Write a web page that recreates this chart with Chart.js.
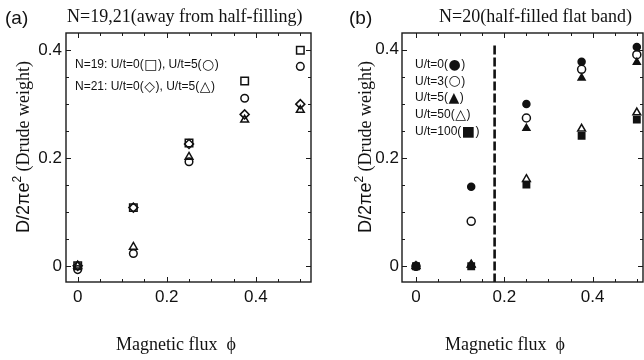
<!DOCTYPE html>
<html><head><meta charset="utf-8">
<script src="https://cdn.jsdelivr.net/npm/chart.js@4.4.1/dist/chart.umd.min.js"></script>
<style>
html,body{margin:0;padding:0;background:#fff;overflow:hidden;width:644px;height:360px;}
canvas{position:absolute;top:0;}
#ca{left:0}
#cb{left:322px}
</style></head><body>
<canvas id="ca" width="322" height="360"></canvas>
<canvas id="cb" width="322" height="360"></canvas>
<script>
// ---------- data ----------
const phi = [0, 0.125, 0.25, 0.375, 0.5];
// panel (a): N=19,21
const aN19U0 = [0.000, 0.108, 0.228, 0.343, 0.400];
const aN19U5 = [-0.007, 0.023, 0.193, 0.311, 0.370];
const aN21U0 = [0.000, 0.108, 0.226, 0.281, 0.300];
const aN21U5 = [0.000, 0.035, 0.202, 0.271, 0.289];
// panel (b): N=20
const bU0   = [0.000, 0.147, 0.300, 0.378, 0.405];
const bU3   = [0.000, 0.083, 0.274, 0.364, 0.391];
const bU5   = [0.000, 0.003, 0.255, 0.348, 0.377];
const bU50  = [0.000, 0.003, 0.161, 0.254, 0.284];
const bU100 = [0.000, 0.000, 0.151, 0.241, 0.271];
const phiCritical = 0.178;
const dashTop = 0.413;
const tickValues = [0, 0.2, 0.4];
const minorStep = 0.05;
const titleA = 'N=19,21(away from half-filling)';
const titleB = 'N=20(half-filled flat band)';
const legendA = ['N=19: U/t=0(\u25A1), U/t=5(\u25CB)', 'N=21: U/t=0(\u25C7), U/t=5(\u25B3)'];
const legendB = ['U/t=0(\u25CF)', 'U/t=3(\u25CB)', 'U/t=5(\u25B2)', 'U/t=50(\u25B3)', 'U/t=100(\u25A0)'];
const xTitle = 'Magnetic flux  \u03D5';

const SANS = '"Liberation Sans", Arial, "DejaVu Sans", sans-serif';
const SERIF = '"Liberation Serif", "Times New Roman", "DejaVu Serif", serif';
const SYM = '"DejaVu Sans", sans-serif';
const SYMBOLS = '\u25A1\u25CB\u25C7\u25B3\u25CF\u25B2\u25A0';

function pts(arr){ return phi.map((x,i)=>({x:x, y:arr[i]})); }

const framePlugin = {
  id:'frame',
  afterDatasetsDraw(chart){
    const {ctx, chartArea:a, scales:{x,y}} = chart;
    ctx.save();
    ctx.strokeStyle='#1a1a1a';
    ctx.lineWidth=1.4;
    ctx.strokeRect(a.left, a.top, a.right-a.left, a.bottom-a.top);
    ctx.lineWidth=1;
    const seg=(x1,y1,x2,y2)=>{ctx.beginPath();ctx.moveTo(x1,y1);ctx.lineTo(x2,y2);ctx.stroke();};
    for(let i=Math.ceil(x.min/minorStep-1e-9); i*minorStep<=x.max+1e-9; i++){
      const px=Math.round(x.getPixelForValue(i*minorStep))+0.5;
      const L=(i%4===0)?5:3;
      seg(px,a.bottom,px,a.bottom-L); seg(px,a.top,px,a.top+L);
    }
    for(let i=Math.ceil(y.min/minorStep-1e-9); i*minorStep<=y.max+1e-9; i++){
      const py=Math.round(y.getPixelForValue(i*minorStep))+0.5;
      const L=(i%4===0)?5:3;
      seg(a.left,py,a.left+L,py); seg(a.right,py,a.right-L,py);
    }
    ctx.restore();
  }
};

function drawRich(ctx, text, x, y, size){
  let cx=x;
  for(const ch of text){
    if(SYMBOLS.includes(ch)){
      ctx.font=(size+2)+'px '+SYM;
      ctx.fillText(ch, cx+0.5, y+0.5);
      cx+=ctx.measureText(ch).width+1;
    } else {
      ctx.font=size+'px '+SANS;
      ctx.fillText(ch, cx, y);
      cx+=ctx.measureText(ch).width;
    }
  }
}

const textPlugin = {
  id:'texts',
  afterDraw(chart, args, o){
    const ctx=chart.ctx;
    ctx.save();
    ctx.fillStyle='#111';
    ctx.textAlign='left'; ctx.textBaseline='alphabetic';
    ctx.font='19px '+SANS; ctx.fillText(o.panel, o.panelX, 24);
    ctx.font='18px '+SERIF; ctx.fillText(o.title, o.titleX, 22);
    // x title
    ctx.textAlign='center';
    ctx.font='18px '+SERIF; ctx.fillText(xTitle, o.xTitleX, 350);
    // legend
    ctx.textAlign='left'; ctx.textBaseline='middle';
    o.legend.forEach((t,i)=>drawRich(ctx, t, o.legendX, o.legendY + i*o.legendDy, o.legendFont));
    // y title
    ctx.translate(o.yTitleX, o.yTitleY);
    ctx.rotate(-Math.PI/2);
    ctx.textBaseline='alphabetic';
    ctx.font='18px '+SANS; const w1=ctx.measureText('D/2\u03C0e').width;
    ctx.font='12px '+SANS; const w2=ctx.measureText('2').width;
    ctx.font='18px '+SERIF; const w3=ctx.measureText(' (Drude weight)').width;
    let cx=-(w1+w2+w3)/2;
    ctx.font='18px '+SANS; ctx.fillText('D/2\u03C0e', cx, 0); cx+=w1;
    ctx.font='12px '+SANS; ctx.fillText('2', cx, -8); cx+=w2;
    ctx.font='18px '+SERIF; ctx.fillText(' (Drude weight)', cx, 0);
    ctx.restore();
  }
};

function ds(label, arr, style, radius, filled){
  return {label, data:pts(arr), pointStyle:style, pointRadius:radius, pointHoverRadius:radius,
    pointBackgroundColor: filled?'#111':'rgba(0,0,0,0)', pointBorderColor:'#111',
    pointBorderWidth:1.5, showLine:false};
}

function makeChart(id, datasets, xr, yr, yAxisW, padRight, plug){
  return new Chart(document.getElementById(id), {
    type:'scatter',
    data:{datasets},
    plugins:[framePlugin, textPlugin],
    options:{
      responsive:false, animation:false, devicePixelRatio:1,
      layout:{autoPadding:false, padding:{top:33, right:padRight, bottom:0, left:0}},
      plugins:{legend:{display:false}, tooltip:{enabled:false}, texts:plug},
      scales:{
        x:{type:'linear', min:xr[0], max:xr[1],
          afterBuildTicks:s=>{s.ticks=tickValues.map(v=>({value:v}));},
          afterFit:s=>{s.height=78;},
          grid:{display:false, drawTicks:false}, border:{display:false},
          ticks:{padding:5, color:'#111', font:{family:SANS, size:17},
            callback:v=>v===0?'0':v.toFixed(1)}},
        y:{type:'linear', min:yr[0], max:yr[1],
          afterBuildTicks:s=>{s.ticks=tickValues.map(v=>({value:v}));},
          afterFit:s=>{s.width=yAxisW;},
          grid:{display:false, drawTicks:false}, border:{display:false},
          ticks:{padding:yAxisW===66?4:3, color:'#111', font:{family:SANS, size:17},
            callback:v=>v===0?'0':v.toFixed(1)}}
      }
    }
  });
}

makeChart('ca', [
  ds('N=19 U/t=0', aN19U0, 'rect', 5.3, false),
  ds('N=19 U/t=5', aN19U5, 'circle', 3.8, false),
  ds('N=21 U/t=0', aN21U0, 'rectRot', 4.5, false),
  ds('N=21 U/t=5', aN21U5, 'triangle', 4.5, false)
], [-0.0263, 0.524], [-0.030, 0.432], 66, 11,
{panel:'(a)', panelX:5, title:titleA, titleX:67, xTitleX:176,
 legend:legendA, legendX:75, legendY:65, legendDy:22, legendFont:12,
 yTitleX:29, yTitleY:147});

makeChart('cb', [
  {label:'critical flux', type:'line', data:[{x:phiCritical,y:-0.03},{x:phiCritical,y:dashTop}],
   borderColor:'#111', borderWidth:2.6, borderDash:[9,3], pointRadius:0, showLine:true, fill:false},
  ds('U/t=0', bU0, 'circle', 3.5, true),
  ds('U/t=3', bU3, 'circle', 4, false),
  ds('U/t=5', bU5, 'triangle', 4, true),
  ds('U/t=50', bU50, 'triangle', 4.5, false),
  ds('U/t=100', bU100, 'rect', 4.5, true)
], [-0.0317, 0.514], [-0.029, 0.431], 80, 1,
{panel:'(b)', panelX:27, title:titleB, titleX:117, xTitleX:183,
 legend:legendB, legendX:93, legendY:64.5, legendDy:16.8, legendFont:12,
 yTitleX:49, yTitleY:147});
</script>
</body></html>
